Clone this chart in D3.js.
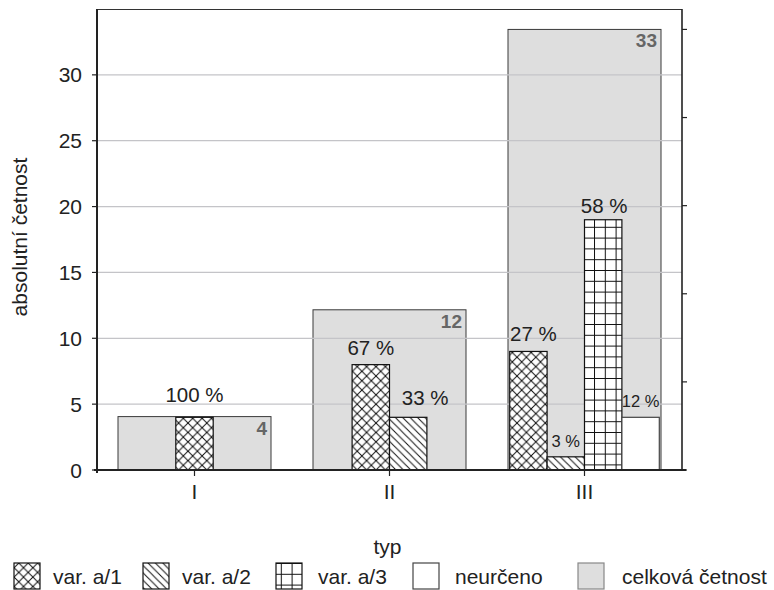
<!DOCTYPE html>
<html lang="cs">
<head>
  <meta charset="UTF-8" />
  <title>absolutní četnost podle typu</title>
  <script src="https://d3js.org/d3.v7.min.js"></script>
  <style>
    body { margin:0; padding:0; background:#fff; }
    svg { display:block; font-family:"Liberation Sans", Arial, sans-serif; }
    .tick-label { font-size:21px; fill:#222; }
    .pct { fill:#222; }
    .total { font-size:19px; font-weight:bold; fill:#666; }
  </style>
</head>
<body>
<svg width="774" height="590"></svg>
<script>
  // data
  const categories = ["I", "II", "III"];
  const seriesNames = ["var. a/1", "var. a/2", "var. a/3", "neurčeno"];
  const varA1    = [4, 8, 9];
  const varA2    = [0, 4, 1];
  const varA3    = [0, 0, 19];
  const neurceno = [0, 0, 4];
  const totals   = [4, 12, 33];
  const totalName = "celková četnost";
  const yTicks = [0, 5, 10, 15, 20, 25, 30];
  const rightTicks = [0, 6.6, 13.2, 19.8, 26.4, 33];
  const xTitle = "typ", yTitle = "absolutní četnost";

  const svg = d3.select("svg");
  const M = { left:97, right:682, top:9, bottom:470 };

  const x  = d3.scaleBand().domain(categories).range([M.left, M.right]);
  const y  = d3.scaleLinear().domain([0, 35]).range([M.bottom, M.top]);
  const y2 = d3.scaleLinear().domain([0, 34.53]).range([M.bottom, M.top]); // secondary axis (totals)

  // patterns
  const defs = svg.append("defs");
  function pattern(id, size, draw){
    const p = defs.append("pattern").attr("id", id)
      .attr("patternUnits","userSpaceOnUse").attr("width", size).attr("height", size);
    p.append("rect").attr("width", size).attr("height", size).attr("fill","#fff");
    draw(p, size);
  }
  const ln = (p, x1, y1, x2, y2_) => p.append("line")
    .attr("x1",x1).attr("y1",y1).attr("x2",x2).attr("y2",y2_)
    .attr("stroke","#111").attr("stroke-width",1);
  pattern("pA1", 9.4, (p,s) => { ln(p,0,0,s,s); ln(p,0,s,s,0); });
  pattern("pA2", 7.4, (p,s) => { ln(p,0,0,s,s); ln(p,-1,s-1,1,s+1); ln(p,s-1,-1,s+1,1); });
  pattern("pA3", 10.8, (p,s) => { ln(p,0.5,0,0.5,s); ln(p,0,0.5,s,0.5); });
  const fills = ["url(#pA1)", "url(#pA2)", "url(#pA3)", "#fff"];

  // total bars (secondary axis)
  const gw = 153;
  svg.append("g").selectAll("rect").data(totals).join("rect")
    .attr("x", (d,i) => x(categories[i]) + x.bandwidth()/2 - gw/2)
    .attr("y", d => y2(d))
    .attr("width", gw)
    .attr("height", d => y2(0) - y2(d))
    .attr("fill","#dedede").attr("stroke","#3a3a3a").attr("stroke-width",1);

  // gridlines
  svg.append("g").selectAll("line").data(yTicks.filter(t => t > 0)).join("line")
    .attr("x1", M.left).attr("x2", M.right)
    .attr("y1", d => y(d)).attr("y2", d => y(d))
    .attr("stroke","#c4c4c8").attr("stroke-width",1.2);

  // top border
  svg.append("line").attr("x1",M.left).attr("x2",M.right).attr("y1",M.top+0.5).attr("y2",M.top+0.5)
    .attr("stroke","#333").attr("stroke-width",1);

  // total labels
  svg.append("g").selectAll("text").data(totals).join("text")
    .attr("class","total")
    .attr("x", (d,i) => x(categories[i]) + x.bandwidth()/2 + gw/2 - 4)
    .attr("y", d => y2(d) + 18)
    .attr("text-anchor","end")
    .text(d => d);

  // series bars
  const series = [varA1, varA2, varA3, neurceno];
  const bw = 37.4;
  const bars = [];
  categories.forEach((c, ci) => {
    const idx = series.map((s,si) => si).filter(si => series[si][ci] > 0);
    const start = x(c) + x.bandwidth()/2 - idx.length * bw / 2;
    idx.forEach((si, k) => bars.push({ c, ci, si, v: series[si][ci], x0: start + k*bw,
      pct: Math.round(series[si][ci] / totals[ci] * 100) }));
  });
  svg.append("g").selectAll("rect").data(bars).join("rect")
    .attr("x", d => d.x0).attr("y", d => y(d.v))
    .attr("width", bw).attr("height", d => y(0) - y(d.v))
    .attr("fill", d => fills[d.si])
    .attr("stroke", d => d.si === 3 ? "#444" : "#111").attr("stroke-width",1.2);

  // percent labels (small nudges so they do not collide)
  const nudge = { "I-0":[0,-5], "II-1":[17,-2], "III-0":[5,0], "III-2":[1,3] };
  svg.append("g").selectAll("text").data(bars).join("text")
    .attr("class","pct")
    .attr("x", d => d.x0 + bw/2 + ((nudge[d.c+"-"+d.si]||[0,0])[0]))
    .attr("y", d => y(d.v) - 10 + ((nudge[d.c+"-"+d.si]||[0,0])[1]))
    .attr("text-anchor","middle")
    .style("font-size", d => d.pct < 15 ? "16.5px" : "20.5px")
    .text(d => d.pct + " %");

  // left axis
  svg.append("line").attr("x1",M.left).attr("x2",M.left).attr("y1",M.top).attr("y2",M.bottom+3)
    .attr("stroke","#222").attr("stroke-width",2);
  const lt = svg.append("g").selectAll("g").data(yTicks).join("g")
    .attr("transform", d => `translate(0,${y(d)})`);
  lt.append("line").attr("x1",M.left-5).attr("x2",M.left).attr("stroke","#222").attr("stroke-width",1.2);
  lt.append("text").attr("class","tick-label").attr("x",M.left-15).attr("dy","0.36em")
    .attr("text-anchor","end").text(d => d);

  // right (secondary) axis, no labels
  svg.append("line").attr("x1",M.right).attr("x2",M.right).attr("y1",M.top).attr("y2",M.bottom)
    .attr("stroke","#222").attr("stroke-width",1.6);
  svg.append("g").selectAll("line").data(rightTicks).join("line")
    .attr("x1",M.right).attr("x2",M.right+5)
    .attr("y1", d => y2(d)).attr("y2", d => y2(d))
    .attr("stroke","#222").attr("stroke-width",1.2);

  // x axis
  svg.append("line").attr("x1",M.left-3).attr("x2",M.right+4).attr("y1",M.bottom).attr("y2",M.bottom)
    .attr("stroke","#222").attr("stroke-width",2);
  const xt = svg.append("g").selectAll("g").data(categories).join("g")
    .attr("transform", d => `translate(${x(d) + x.bandwidth()/2},0)`);
  xt.append("line").attr("y1",M.bottom).attr("y2",M.bottom+6).attr("stroke","#222").attr("stroke-width",1.2);
  xt.append("text").attr("class","tick-label").attr("y",M.bottom+29)
    .attr("text-anchor","middle").text(d => d);

  // titles
  svg.append("text").attr("class","tick-label").attr("x",(M.left+M.right)/2 - 2).attr("y",554)
    .attr("text-anchor","middle").text(xTitle);
  svg.append("text").attr("class","tick-label")
    .attr("transform","translate(27,237) rotate(-90)")
    .attr("text-anchor","middle").text(yTitle);

  // legend
  const legFills = [...fills, "#dedede"];
  const legStroke = ["#111","#111","#111","#444","#888"];
  const legX = [14, 143, 276, 413, 578];
  const legTextX = [53, 182, 318, 455, 622];
  const leg = svg.append("g").selectAll("g").data([...seriesNames, totalName]).join("g")
    .attr("transform", (d,i) => `translate(0,563)`);
  leg.append("rect").attr("x", (d,i) => legX[i]).attr("width",26).attr("height",26)
    .attr("fill", (d,i) => legFills[i]).attr("stroke", (d,i) => legStroke[i]).attr("stroke-width",1.2);
  leg.append("text").attr("class","tick-label").attr("x", (d,i) => legTextX[i]).attr("y",21).text(d => d);
</script>
</body>
</html>
